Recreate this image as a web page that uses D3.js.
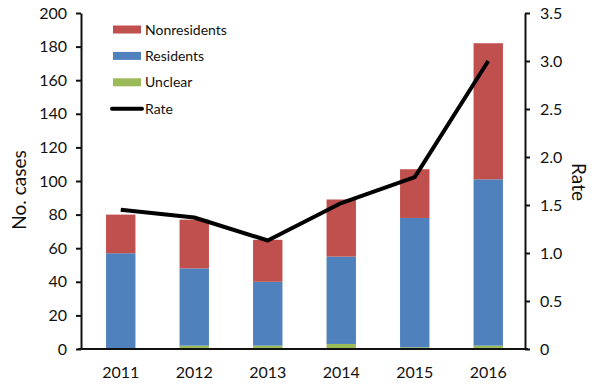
<!DOCTYPE html>
<html lang="en">
  <head>
    <meta charset="UTF-8" />
    <script src="https://d3js.org/d3.v7.min.js"></script>
    <style>
      body { margin: 0; background: #fff; }
      text { font-family: Lato, "Open Sans", sans-serif; fill: #111; }
      .axis path, .axis line { stroke: #111; stroke-width: 2; }
    </style>
  </head>
  <body>
    <script>
      var width = 600
      var height = 388

      var years = ['2011', '2012', '2013', '2014', '2015', '2016']
      var unclear = [0, 2, 2, 3, 1, 2]
      var residents = [57, 46, 38, 52, 77, 99]
      var nonresidents = [23, 29, 25, 34, 29, 81]
      var rate = [1.45, 1.37, 1.13, 1.52, 1.79, 3.0]
      var leftTicks = [0, 20, 40, 60, 80, 100, 120, 140, 160, 180, 200]
      var rightTicks = [0, 0.5, 1.0, 1.5, 2.0, 2.5, 3.0, 3.5]

      var colors = { unclear: '#9bbb59', residents: '#4f81bd', nonresidents: '#c0504d' }

      var svg = d3.select('body').append('svg')
        .attr('width', width).attr('height', height)

      var x = d3.scaleBand().domain(years).range([84, 525]).paddingInner(0.6).paddingOuter(0.3)
      var y = d3.scaleLinear().domain([0, 200]).range([349, 13])
      var yr = d3.scaleLinear().domain([0, 3.5]).range([349, 13])

      // stacked bars
      var rows = years.map(function (yr_, i) {
        return { year: yr_, unclear: unclear[i], residents: residents[i], nonresidents: nonresidents[i] }
      })
      var stack = d3.stack().keys(['unclear', 'residents', 'nonresidents'])(rows)

      svg.append('g').selectAll('g')
        .data(stack).enter().append('g')
        .attr('fill', function (d) { return colors[d.key] })
        .selectAll('rect')
        .data(function (d) { return d }).enter().append('rect')
        .attr('x', function (d) { return x(d.data.year) })
        .attr('width', x.bandwidth())
        .attr('y', function (d) { return y(d[1]) })
        .attr('height', function (d) { return y(d[0]) - y(d[1]) })

      // rate line
      var line = d3.line()
        .x(function (d, i) { return x(years[i]) + x.bandwidth() / 2 })
        .y(function (d) { return yr(d) })
      svg.append('path').datum(rate)
        .attr('d', line)
        .attr('fill', 'none')
        .attr('stroke', '#000')
        .attr('stroke-width', 4)
        .attr('stroke-linejoin', 'round')

      // axes
      var leftAxis = d3.axisLeft(y).tickValues(leftTicks).tickSize(5).tickPadding(9).tickSizeOuter(0)
      var gl = svg.append('g').attr('class', 'axis').attr('transform', 'translate(81,0)').call(leftAxis)
      gl.selectAll('text').attr('font-size', 16)

      var rightAxis = d3.axisRight(yr).tickValues(rightTicks).tickSize(5).tickPadding(10).tickSizeOuter(0)
        .tickFormat(function (d) { return d === 0 ? '0' : d3.format('.1f')(d) })
      var gr = svg.append('g').attr('class', 'axis').attr('transform', 'translate(525,0)').call(rightAxis)
      gr.selectAll('text').attr('font-size', 16)

      svg.append('line')
        .attr('x1', 78).attr('x2', 528).attr('y1', 349).attr('y2', 349)
        .attr('stroke', '#111').attr('stroke-width', 2)

      svg.append('g').selectAll('text')
        .data(years).enter().append('text')
        .attr('x', function (d) { return x(d) + x.bandwidth() / 2 })
        .attr('y', 378)
        .attr('text-anchor', 'middle')
        .attr('font-size', 16)
        .text(function (d) { return d })

      // axis titles
      svg.append('text')
        .attr('transform', 'translate(26,190) rotate(-90)')
        .attr('text-anchor', 'middle')
        .attr('font-size', 19)
        .text('No. cases')
      svg.append('text')
        .attr('transform', 'translate(572,182) rotate(90)')
        .attr('text-anchor', 'middle')
        .attr('font-size', 19)
        .text('Rate')

      // legend
      var legend = [
        { label: 'Nonresidents', color: colors.nonresidents, type: 'rect' },
        { label: 'Residents', color: colors.residents, type: 'rect' },
        { label: 'Unclear', color: colors.unclear, type: 'rect' },
        { label: 'Rate', color: '#000', type: 'line' }
      ]
      var lg = svg.append('g').selectAll('g')
        .data(legend).enter().append('g')
        .attr('transform', function (d, i) { return 'translate(112,' + (29.5 + i * 26.4) + ')' })
      lg.filter(function (d) { return d.type === 'rect' }).append('rect')
        .attr('x', 1).attr('y', -4).attr('width', 28).attr('height', 8)
        .attr('fill', function (d) { return d.color })
      lg.filter(function (d) { return d.type === 'line' }).append('line')
        .attr('x1', 0).attr('x2', 30).attr('y1', 0).attr('y2', 0)
        .attr('stroke', '#000').attr('stroke-width', 4).attr('stroke-linecap', 'round')
      lg.append('text')
        .attr('x', 33).attr('y', 5)
        .attr('font-size', 14)
        .text(function (d) { return d.label })
    </script>
  </body>
</html>
